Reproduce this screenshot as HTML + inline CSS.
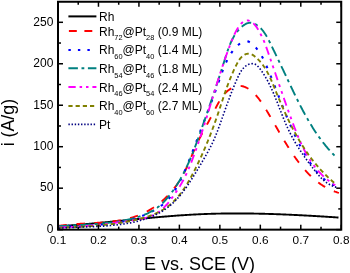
<!DOCTYPE html>
<html><head><meta charset="utf-8"><style>
html,body{margin:0;padding:0;background:#fff;}
svg{display:block;will-change:transform;}
</style></head><body>
<svg width="350" height="273" viewBox="0 0 350 273">
<path d="M58.54,226.25 L59.24,226.20 L59.94,226.16 L60.64,226.11 L61.34,226.06 L62.04,226.02 L62.74,225.97 L63.44,225.92 L64.14,225.87 L64.84,225.82 L65.54,225.77 L66.24,225.72 L66.94,225.67 L67.64,225.62 L68.35,225.56 L69.05,225.51 L69.75,225.46 L70.45,225.41 L71.15,225.35 L71.85,225.30 L72.55,225.24 L73.25,225.19 L73.95,225.13 L74.65,225.07 L75.35,225.02 L76.05,224.96 L76.75,224.90 L77.45,224.85 L78.15,224.79 L78.85,224.73 L79.55,224.67 L80.25,224.61 L80.95,224.55 L81.65,224.49 L82.35,224.43 L83.05,224.37 L83.75,224.31 L84.46,224.25 L85.16,224.19 L85.86,224.12 L86.56,224.06 L87.26,224.00 L87.96,223.94 L88.66,223.87 L89.36,223.81 L90.06,223.75 L90.76,223.68 L91.46,223.62 L92.16,223.55 L92.86,223.49 L93.56,223.42 L94.26,223.36 L94.96,223.29 L95.66,223.23 L96.36,223.16 L97.06,223.09 L97.76,223.03 L98.46,222.96 L99.16,222.89 L99.86,222.83 L100.56,222.76 L101.26,222.69 L101.96,222.62 L102.66,222.55 L103.36,222.49 L104.06,222.42 L104.76,222.35 L105.46,222.28 L106.16,222.21 L106.86,222.14 L107.56,222.08 L108.26,222.01 L108.96,221.94 L109.66,221.87 L110.36,221.80 L111.06,221.73 L111.76,221.66 L112.46,221.59 L113.16,221.52 L113.86,221.45 L114.56,221.38 L115.26,221.31 L115.96,221.24 L116.66,221.17 L117.36,221.10 L118.06,221.03 L118.76,220.96 L119.46,220.89 L120.16,220.82 L120.86,220.75 L121.56,220.68 L122.26,220.61 L122.96,220.54 L123.66,220.47 L124.36,220.40 L125.06,220.33 L125.76,220.26 L126.46,220.19 L127.16,220.12 L127.86,220.05 L128.56,219.98 L129.26,219.91 L129.96,219.84 L130.66,219.77 L131.36,219.70 L132.06,219.63 L132.76,219.56 L133.46,219.49 L134.16,219.42 L134.86,219.35 L135.56,219.28 L136.26,219.21 L136.96,219.14 L137.66,219.07 L138.36,219.00 L139.06,218.94 L139.76,218.87 L140.46,218.80 L141.16,218.73 L141.86,218.66 L142.56,218.60 L143.26,218.53 L143.96,218.46 L144.66,218.39 L145.36,218.33 L146.06,218.26 L146.76,218.19 L147.46,218.13 L148.16,218.06 L148.87,217.99 L149.57,217.93 L150.27,217.86 L150.97,217.80 L151.67,217.73 L152.37,217.67 L153.07,217.60 L153.77,217.54 L154.47,217.48 L155.17,217.41 L155.87,217.35 L156.57,217.29 L157.27,217.23 L157.97,217.16 L158.67,217.10 L159.37,217.04 L160.07,216.98 L160.77,216.92 L161.47,216.86 L162.17,216.80 L162.87,216.74 L163.58,216.68 L164.28,216.62 L164.98,216.56 L165.68,216.50 L166.38,216.44 L167.08,216.38 L167.78,216.33 L168.48,216.27 L169.18,216.21 L169.88,216.16 L170.58,216.10 L171.28,216.05 L171.99,215.99 L172.69,215.94 L173.39,215.88 L174.09,215.83 L174.79,215.78 L175.49,215.73 L176.19,215.67 L176.89,215.62 L177.59,215.57 L178.29,215.52 L179.00,215.47 L179.70,215.42 L180.40,215.37 L181.10,215.32 L181.80,215.28 L182.50,215.23 L183.20,215.18 L183.90,215.13 L184.61,215.09 L185.31,215.04 L186.01,215.00 L186.71,214.95 L187.41,214.91 L188.11,214.87 L188.81,214.83 L189.52,214.78 L190.22,214.74 L190.92,214.70 L191.62,214.66 L192.32,214.62 L193.02,214.58 L193.73,214.54 L194.43,214.51 L195.13,214.47 L195.83,214.43 L196.53,214.40 L197.23,214.36 L197.94,214.33 L198.64,214.30 L199.34,214.26 L200.04,214.23 L200.74,214.20 L201.45,214.17 L202.15,214.14 L202.85,214.11 L203.55,214.08 L204.26,214.05 L204.96,214.02 L205.66,214.00 L206.36,213.97 L207.06,213.94 L207.77,213.92 L208.47,213.89 L209.17,213.87 L209.87,213.85 L210.58,213.83 L211.28,213.80 L211.98,213.78 L212.68,213.76 L213.39,213.74 L214.09,213.72 L214.79,213.71 L215.49,213.69 L216.20,213.67 L216.90,213.65 L217.60,213.64 L218.31,213.62 L219.01,213.61 L219.71,213.59 L220.41,213.58 L221.12,213.57 L221.82,213.55 L222.52,213.54 L223.23,213.53 L223.93,213.52 L224.63,213.51 L225.33,213.50 L226.04,213.49 L226.74,213.48 L227.44,213.48 L228.15,213.47 L228.85,213.46 L229.55,213.46 L230.26,213.45 L230.96,213.45 L231.66,213.44 L232.36,213.44 L233.07,213.43 L233.77,213.43 L234.47,213.43 L235.18,213.43 L235.88,213.43 L236.58,213.43 L237.29,213.43 L237.99,213.43 L238.69,213.43 L239.40,213.43 L240.10,213.43 L240.80,213.43 L241.51,213.44 L242.21,213.44 L242.91,213.45 L243.62,213.45 L244.32,213.46 L245.02,213.46 L245.73,213.47 L246.43,213.47 L247.13,213.48 L247.84,213.49 L248.54,213.50 L249.24,213.51 L249.95,213.51 L250.65,213.52 L251.35,213.53 L252.06,213.55 L252.76,213.56 L253.46,213.57 L254.17,213.58 L254.87,213.59 L255.57,213.60 L256.28,213.62 L256.98,213.63 L257.68,213.65 L258.39,213.66 L259.09,213.68 L259.79,213.69 L260.50,213.71 L261.20,213.72 L261.90,213.74 L262.61,213.76 L263.31,213.78 L264.01,213.79 L264.72,213.81 L265.42,213.83 L266.12,213.85 L266.83,213.87 L267.53,213.89 L268.23,213.91 L268.94,213.93 L269.64,213.95 L270.34,213.98 L271.05,214.00 L271.75,214.02 L272.45,214.04 L273.16,214.07 L273.86,214.09 L274.56,214.12 L275.27,214.14 L275.97,214.16 L276.67,214.19 L277.38,214.22 L278.08,214.24 L278.78,214.27 L279.49,214.29 L280.19,214.32 L280.89,214.35 L281.60,214.38 L282.30,214.41 L283.00,214.43 L283.71,214.46 L284.41,214.49 L285.11,214.52 L285.82,214.55 L286.52,214.58 L287.22,214.61 L287.92,214.64 L288.63,214.67 L289.33,214.71 L290.03,214.74 L290.74,214.77 L291.44,214.80 L292.14,214.83 L292.85,214.87 L293.55,214.90 L294.25,214.93 L294.95,214.97 L295.66,215.00 L296.36,215.04 L297.06,215.07 L297.77,215.11 L298.47,215.14 L299.17,215.18 L299.87,215.21 L300.58,215.25 L301.28,215.29 L301.98,215.32 L302.68,215.36 L303.39,215.40 L304.09,215.43 L304.79,215.47 L305.49,215.51 L306.20,215.55 L306.90,215.59 L307.60,215.62 L308.30,215.66 L309.01,215.70 L309.71,215.74 L310.41,215.78 L311.11,215.82 L311.82,215.86 L312.52,215.90 L313.22,215.94 L313.92,215.98 L314.62,216.02 L315.33,216.07 L316.03,216.11 L316.73,216.15 L317.43,216.19 L318.13,216.23 L318.84,216.27 L319.54,216.32 L320.24,216.36 L320.94,216.40 L321.64,216.44 L322.35,216.49 L323.05,216.53 L323.75,216.57 L324.45,216.62 L325.15,216.66 L325.85,216.71 L326.56,216.75 L327.26,216.79 L327.96,216.84 L328.66,216.88 L329.36,216.93 L330.06,216.97 L330.76,217.02 L331.47,217.06 L332.17,217.11 L332.87,217.15 L333.57,217.20 L334.27,217.25 L334.97,217.29 L335.67,217.34 L336.37,217.38 L337.07,217.43 L337.77,217.48 L338.48,217.52" fill="none" stroke="#000000" stroke-width="1.9"/>
<path d="M58.61,225.92 L59.56,225.78 L60.51,225.64 L61.47,225.50 L62.44,225.38 L63.40,225.25 L64.37,225.14 L65.35,225.02 L66.32,224.92 L67.30,224.82 L68.29,224.72 L69.27,224.62 L70.26,224.53 L71.25,224.45 L72.25,224.37 L73.24,224.29 L74.24,224.21 L75.25,224.14 L76.25,224.07 L77.26,224.00 L78.26,223.93 L79.27,223.87 L80.29,223.81 L81.30,223.75 L82.31,223.69 L83.33,223.63 L84.35,223.57 L85.37,223.52 L86.39,223.46 L87.41,223.40 L88.43,223.35 L89.45,223.29 L90.48,223.23 L91.50,223.18 L92.52,223.12 L93.55,223.06 L94.57,222.99 L95.60,222.93 L96.62,222.87 L97.65,222.80 L98.67,222.73 L99.70,222.66 L100.72,222.58 L101.75,222.50 L102.77,222.42 L103.79,222.34 L104.81,222.25 L105.83,222.16 L106.85,222.06 L107.87,221.96 L108.89,221.86 L109.90,221.75 L110.92,221.63 L111.93,221.51 L112.94,221.38 L113.95,221.25 L114.96,221.11 L115.96,220.97 L116.96,220.82 L117.96,220.66 L118.96,220.50 L119.96,220.33 L120.95,220.15 L121.94,219.96 L122.93,219.77 L123.91,219.57 L124.89,219.36 L125.87,219.14 L126.85,218.91 L127.82,218.68 L128.79,218.43 L129.75,218.18 L130.71,217.91 L131.67,217.64 L132.62,217.36 L133.57,217.06 L134.52,216.76 L135.46,216.44 L136.39,216.12 L137.33,215.78 L138.25,215.43 L139.18,215.07 L140.09,214.70 L141.01,214.32 L141.92,213.92 L142.82,213.51 L143.72,213.09 L144.61,212.66 L145.50,212.22 L146.38,211.76 L147.25,211.30 L148.12,210.82 L148.99,210.33 L149.85,209.83 L150.70,209.32 L151.55,208.80 L152.39,208.27 L153.23,207.73 L154.06,207.17 L154.88,206.61 L155.70,206.04 L156.51,205.45 L157.31,204.86 L158.11,204.26 L158.90,203.65 L159.69,203.02 L160.47,202.39 L161.24,201.75 L162.00,201.10 L162.76,200.44 L163.51,199.77 L164.25,199.10 L164.99,198.41 L165.71,197.72 L166.44,197.01 L167.15,196.30 L167.85,195.58 L168.55,194.85 L169.24,194.12 L169.93,193.37 L170.60,192.62 L171.27,191.86 L171.93,191.10 L172.58,190.32 L173.22,189.54 L173.85,188.75 L174.48,187.96 L175.10,187.15 L175.70,186.34 L176.30,185.53 L176.90,184.70 L177.48,183.88 L178.05,183.04 L178.62,182.20 L179.17,181.35 L179.72,180.49 L180.26,179.63 L180.79,178.77 L181.31,177.90 L181.81,177.02 L182.31,176.14 L182.81,175.25 L183.29,174.36 L183.76,173.46 L184.23,172.56 L184.69,171.65 L185.14,170.74 L185.59,169.83 L186.03,168.92 L186.46,168.00 L186.89,167.08 L187.31,166.15 L187.73,165.23 L188.14,164.30 L188.55,163.37 L188.95,162.44 L189.36,161.50 L189.76,160.57 L190.15,159.64 L190.55,158.70 L190.94,157.77 L191.33,156.84 L191.72,155.90 L192.11,154.97 L192.50,154.04 L192.89,153.11 L193.28,152.18 L193.68,151.25 L194.07,150.33 L194.46,149.40 L194.86,148.48 L195.26,147.57 L195.66,146.65 L196.07,145.74 L196.48,144.84 L196.89,143.93 L197.31,143.04 L197.73,142.14 L198.16,141.25 L198.59,140.37 L199.02,139.48 L199.46,138.60 L199.91,137.73 L200.35,136.85 L200.80,135.98 L201.26,135.11 L201.71,134.24 L202.17,133.37 L202.64,132.51 L203.10,131.64 L203.57,130.78 L204.04,129.91 L204.51,129.05 L204.98,128.18 L205.46,127.31 L205.94,126.45 L206.41,125.58 L206.89,124.70 L207.37,123.83 L207.85,122.95 L208.34,122.07 L208.82,121.19 L209.30,120.31 L209.78,119.42 L210.26,118.52 L210.74,117.62 L211.23,116.72 L211.71,115.81 L212.19,114.90 L212.66,113.98 L213.14,113.06 L213.62,112.13 L214.09,111.19 L214.57,110.25 L215.04,109.31 L215.52,108.36 L216.00,107.42 L216.49,106.48 L216.98,105.54 L217.47,104.61 L217.98,103.68 L218.49,102.76 L219.01,101.85 L219.53,100.95 L220.07,100.06 L220.62,99.19 L221.19,98.33 L221.76,97.48 L222.35,96.66 L222.96,95.85 L223.58,95.06 L224.22,94.29 L224.87,93.55 L225.55,92.83 L226.24,92.14 L226.95,91.47 L227.69,90.84 L228.45,90.23 L229.23,89.66 L230.04,89.11 L230.87,88.61 L231.72,88.14 L232.58,87.71 L233.47,87.32 L234.36,86.98 L235.27,86.69 L236.19,86.44 L237.11,86.25 L238.03,86.11 L238.96,86.03 L239.89,86.00 L240.81,86.04 L241.73,86.14 L242.64,86.30 L243.55,86.53 L244.44,86.81 L245.33,87.15 L246.21,87.55 L247.07,87.99 L247.93,88.47 L248.78,89.00 L249.61,89.58 L250.43,90.18 L251.24,90.82 L252.04,91.50 L252.82,92.20 L253.59,92.92 L254.34,93.67 L255.08,94.43 L255.80,95.21 L256.51,96.00 L257.20,96.81 L257.87,97.62 L258.52,98.43 L259.16,99.25 L259.78,100.08 L260.39,100.91 L260.99,101.74 L261.57,102.58 L262.14,103.43 L262.71,104.27 L263.26,105.12 L263.81,105.97 L264.35,106.83 L264.88,107.69 L265.41,108.55 L265.93,109.41 L266.45,110.27 L266.97,111.13 L267.49,111.99 L268.00,112.85 L268.51,113.72 L269.02,114.58 L269.53,115.45 L270.04,116.31 L270.55,117.18 L271.05,118.05 L271.56,118.91 L272.06,119.78 L272.56,120.65 L273.07,121.51 L273.57,122.38 L274.07,123.25 L274.57,124.12 L275.07,124.98 L275.57,125.85 L276.07,126.72 L276.57,127.59 L277.07,128.45 L277.57,129.32 L278.07,130.19 L278.58,131.05 L279.08,131.92 L279.58,132.78 L280.09,133.65 L280.59,134.51 L281.10,135.38 L281.61,136.24 L282.12,137.10 L282.63,137.96 L283.15,138.82 L283.66,139.68 L284.18,140.54 L284.70,141.40 L285.22,142.26 L285.74,143.11 L286.27,143.97 L286.80,144.82 L287.33,145.67 L287.86,146.52 L288.40,147.37 L288.94,148.22 L289.49,149.07 L290.03,149.91 L290.58,150.76 L291.14,151.60 L291.70,152.44 L292.26,153.28 L292.82,154.12 L293.39,154.95 L293.97,155.79 L294.54,156.62 L295.13,157.45 L295.71,158.27 L296.30,159.10 L296.90,159.92 L297.50,160.73 L298.11,161.54 L298.72,162.35 L299.33,163.16 L299.95,163.96 L300.58,164.75 L301.21,165.54 L301.85,166.33 L302.49,167.11 L303.14,167.88 L303.79,168.65 L304.45,169.41 L305.12,170.17 L305.79,170.92 L306.47,171.66 L307.15,172.39 L307.84,173.12 L308.54,173.84 L309.25,174.56 L309.96,175.26 L310.68,175.96 L311.40,176.65 L312.13,177.33 L312.87,178.00 L313.62,178.66 L314.37,179.32 L315.14,179.96 L315.91,180.60 L316.68,181.22 L317.47,181.83 L318.26,182.44 L319.06,183.03 L319.87,183.61 L320.69,184.18 L321.51,184.74 L322.35,185.29 L323.19,185.83 L324.04,186.35 L324.90,186.86 L325.77,187.36 L326.65,187.85 L327.54,188.32 L328.44,188.78 L329.34,189.23 L330.26,189.66 L331.18,190.08 L332.12,190.49 L333.06,190.88 L334.02,191.25 L334.98,191.62 L335.95,191.96 L336.94,192.29 L337.93,192.61 L338.94,192.91" fill="none" stroke="#ff0000" stroke-width="1.9" stroke-dasharray="8.3 9.7"/>
<path d="M58.53,226.98 L59.69,226.90 L60.85,226.83 L62.01,226.76 L63.18,226.69 L64.35,226.62 L65.52,226.55 L66.69,226.49 L67.86,226.43 L69.04,226.37 L70.21,226.31 L71.39,226.25 L72.57,226.20 L73.75,226.14 L74.93,226.09 L76.11,226.03 L77.30,225.98 L78.48,225.92 L79.67,225.87 L80.86,225.81 L82.04,225.76 L83.23,225.70 L84.42,225.64 L85.61,225.58 L86.80,225.52 L87.99,225.45 L89.18,225.38 L90.37,225.31 L91.56,225.24 L92.75,225.17 L93.94,225.09 L95.12,225.01 L96.31,224.92 L97.50,224.83 L98.69,224.74 L99.88,224.64 L101.06,224.54 L102.25,224.43 L103.43,224.31 L104.62,224.20 L105.80,224.07 L106.98,223.94 L108.16,223.81 L109.34,223.67 L110.52,223.52 L111.69,223.37 L112.87,223.20 L114.04,223.04 L115.21,222.86 L116.38,222.68 L117.54,222.48 L118.71,222.28 L119.87,222.08 L121.03,221.86 L122.19,221.64 L123.34,221.40 L124.50,221.16 L125.65,220.91 L126.79,220.64 L127.94,220.37 L129.08,220.09 L130.22,219.80 L131.36,219.49 L132.49,219.18 L133.62,218.85 L134.74,218.52 L135.87,218.17 L136.99,217.81 L138.10,217.44 L139.21,217.05 L140.32,216.65 L141.43,216.25 L142.53,215.82 L143.62,215.39 L144.72,214.94 L145.80,214.48 L146.89,214.00 L147.97,213.51 L149.04,213.01 L150.11,212.49 L151.18,211.95 L152.24,211.40 L153.29,210.84 L154.33,210.26 L155.37,209.66 L156.39,209.05 L157.40,208.41 L158.40,207.76 L159.39,207.09 L160.36,206.40 L161.31,205.69 L162.24,204.97 L163.16,204.22 L164.06,203.45 L164.93,202.66 L165.79,201.84 L166.62,201.01 L167.43,200.15 L168.22,199.28 L169.00,198.39 L169.75,197.48 L170.49,196.56 L171.21,195.62 L171.91,194.67 L172.60,193.70 L173.27,192.73 L173.93,191.74 L174.58,190.74 L175.21,189.73 L175.83,188.72 L176.44,187.70 L177.04,186.67 L177.62,185.64 L178.20,184.60 L178.77,183.55 L179.33,182.51 L179.88,181.45 L180.42,180.39 L180.95,179.33 L181.47,178.27 L181.99,177.20 L182.50,176.12 L183.00,175.04 L183.50,173.96 L183.98,172.88 L184.46,171.79 L184.94,170.70 L185.41,169.61 L185.87,168.51 L186.33,167.41 L186.79,166.32 L187.24,165.21 L187.68,164.11 L188.13,163.01 L188.57,161.90 L189.00,160.80 L189.43,159.69 L189.86,158.58 L190.29,157.47 L190.72,156.36 L191.14,155.25 L191.56,154.15 L191.98,153.04 L192.40,151.93 L192.82,150.82 L193.24,149.72 L193.66,148.61 L194.09,147.51 L194.51,146.41 L194.93,145.31 L195.35,144.21 L195.77,143.11 L196.19,142.01 L196.61,140.91 L197.03,139.81 L197.45,138.72 L197.87,137.62 L198.29,136.52 L198.71,135.43 L199.13,134.33 L199.55,133.24 L199.97,132.14 L200.39,131.05 L200.81,129.96 L201.23,128.86 L201.65,127.77 L202.07,126.68 L202.49,125.58 L202.91,124.49 L203.33,123.40 L203.75,122.30 L204.16,121.21 L204.58,120.12 L205.00,119.02 L205.42,117.93 L205.84,116.83 L206.25,115.73 L206.67,114.64 L207.08,113.54 L207.50,112.44 L207.92,111.35 L208.33,110.25 L208.75,109.15 L209.16,108.04 L209.57,106.94 L209.99,105.84 L210.40,104.74 L210.81,103.63 L211.22,102.53 L211.63,101.42 L212.04,100.31 L212.45,99.20 L212.86,98.09 L213.27,96.98 L213.68,95.86 L214.09,94.75 L214.50,93.63 L214.90,92.51 L215.31,91.39 L215.71,90.27 L216.12,89.14 L216.52,88.02 L216.92,86.89 L217.33,85.76 L217.73,84.62 L218.13,83.49 L218.53,82.35 L218.93,81.22 L219.33,80.08 L219.72,78.93 L220.12,77.79 L220.52,76.65 L220.92,75.50 L221.33,74.36 L221.74,73.22 L222.15,72.08 L222.57,70.95 L223.00,69.82 L223.43,68.69 L223.87,67.57 L224.32,66.46 L224.79,65.35 L225.26,64.25 L225.74,63.16 L226.23,62.08 L226.74,61.01 L227.26,59.95 L227.80,58.90 L228.35,57.86 L228.92,56.84 L229.51,55.83 L230.11,54.83 L230.74,53.85 L231.38,52.88 L232.04,51.93 L232.73,51.00 L233.43,50.09 L234.17,49.19 L234.92,48.31 L235.70,47.46 L236.51,46.62 L237.34,45.81 L238.20,45.02 L239.08,44.25 L239.99,43.52 L240.93,42.86 L241.88,42.27 L242.85,41.78 L243.84,41.40 L244.83,41.16 L245.83,41.07 L246.84,41.15 L247.85,41.38 L248.85,41.76 L249.85,42.27 L250.84,42.90 L251.81,43.61 L252.76,44.41 L253.68,45.27 L254.58,46.18 L255.45,47.13 L256.28,48.08 L257.07,49.06 L257.83,50.05 L258.57,51.05 L259.27,52.06 L259.94,53.09 L260.59,54.12 L261.21,55.17 L261.81,56.22 L262.39,57.28 L262.95,58.35 L263.49,59.43 L264.02,60.51 L264.54,61.59 L265.04,62.68 L265.53,63.77 L266.02,64.87 L266.49,65.96 L266.96,67.06 L267.43,68.15 L267.90,69.24 L268.36,70.34 L268.82,71.43 L269.27,72.52 L269.72,73.62 L270.17,74.71 L270.61,75.80 L271.06,76.89 L271.50,77.98 L271.94,79.08 L272.37,80.17 L272.81,81.26 L273.24,82.35 L273.67,83.44 L274.10,84.54 L274.53,85.63 L274.96,86.72 L275.38,87.82 L275.81,88.91 L276.23,90.00 L276.66,91.10 L277.08,92.19 L277.51,93.29 L277.93,94.38 L278.36,95.48 L278.78,96.58 L279.21,97.68 L279.63,98.77 L280.06,99.87 L280.49,100.97 L280.92,102.07 L281.35,103.17 L281.78,104.27 L282.21,105.37 L282.64,106.47 L283.08,107.57 L283.51,108.67 L283.95,109.77 L284.39,110.86 L284.83,111.96 L285.28,113.06 L285.72,114.16 L286.17,115.25 L286.62,116.35 L287.07,117.45 L287.52,118.54 L287.98,119.63 L288.44,120.73 L288.90,121.82 L289.37,122.91 L289.84,124.00 L290.31,125.09 L290.78,126.17 L291.26,127.26 L291.74,128.34 L292.23,129.42 L292.71,130.50 L293.20,131.58 L293.70,132.66 L294.20,133.74 L294.70,134.81 L295.21,135.88 L295.72,136.95 L296.24,138.02 L296.76,139.08 L297.28,140.14 L297.81,141.21 L298.34,142.26 L298.88,143.32 L299.42,144.37 L299.97,145.42 L300.52,146.47 L301.08,147.52 L301.65,148.56 L302.22,149.60 L302.79,150.63 L303.37,151.67 L303.96,152.70 L304.55,153.72 L305.14,154.75 L305.75,155.77 L306.36,156.79 L306.97,157.80 L307.59,158.81 L308.22,159.82 L308.85,160.82 L309.50,161.82 L310.14,162.81 L310.80,163.80 L311.46,164.79 L312.13,165.76 L312.82,166.73 L313.51,167.69 L314.21,168.64 L314.93,169.58 L315.65,170.51 L316.39,171.42 L317.14,172.32 L317.91,173.21 L318.69,174.08 L319.49,174.93 L320.31,175.77 L321.14,176.58 L321.99,177.38 L322.85,178.16 L323.74,178.91 L324.65,179.64 L325.57,180.35 L326.52,181.03 L327.49,181.69 L328.48,182.32 L329.50,182.93 L330.54,183.50 L331.60,184.05 L332.69,184.56 L333.80,185.05 L334.95,185.50 L336.11,185.92 L337.31,186.30" fill="none" stroke="#0000ff" stroke-width="2.1" stroke-dasharray="2.6 8"/>
<path d="M58.49,226.20 L59.69,226.12 L60.90,226.04 L62.10,225.97 L63.30,225.90 L64.50,225.83 L65.70,225.76 L66.89,225.69 L68.09,225.63 L69.29,225.56 L70.49,225.50 L71.68,225.44 L72.88,225.37 L74.08,225.31 L75.27,225.25 L76.47,225.19 L77.66,225.13 L78.86,225.07 L80.05,225.00 L81.24,224.94 L82.44,224.88 L83.63,224.81 L84.82,224.74 L86.02,224.67 L87.21,224.60 L88.40,224.53 L89.59,224.46 L90.78,224.38 L91.97,224.30 L93.16,224.22 L94.35,224.13 L95.54,224.04 L96.73,223.95 L97.92,223.85 L99.11,223.75 L100.30,223.65 L101.49,223.54 L102.67,223.43 L103.86,223.31 L105.05,223.19 L106.24,223.06 L107.43,222.93 L108.61,222.79 L109.80,222.65 L110.99,222.50 L112.18,222.34 L113.36,222.18 L114.55,222.01 L115.74,221.84 L116.92,221.66 L118.11,221.47 L119.30,221.27 L120.48,221.07 L121.67,220.86 L122.85,220.64 L124.04,220.41 L125.23,220.18 L126.41,219.93 L127.60,219.68 L128.78,219.42 L129.97,219.15 L131.15,218.87 L132.33,218.57 L133.51,218.27 L134.68,217.95 L135.85,217.62 L137.01,217.28 L138.17,216.93 L139.32,216.56 L140.46,216.17 L141.60,215.77 L142.73,215.36 L143.86,214.93 L144.97,214.48 L146.07,214.01 L147.17,213.53 L148.25,213.03 L149.32,212.50 L150.38,211.96 L151.43,211.40 L152.46,210.82 L153.48,210.22 L154.49,209.59 L155.48,208.95 L156.46,208.28 L157.42,207.59 L158.36,206.87 L159.29,206.13 L160.20,205.36 L161.09,204.57 L161.97,203.76 L162.83,202.92 L163.67,202.07 L164.49,201.19 L165.31,200.31 L166.11,199.41 L166.89,198.50 L167.67,197.58 L168.44,196.66 L169.19,195.72 L169.93,194.78 L170.67,193.84 L171.39,192.88 L172.10,191.92 L172.81,190.96 L173.50,189.98 L174.18,189.00 L174.86,188.02 L175.52,187.02 L176.18,186.02 L176.82,185.02 L177.46,184.01 L178.09,182.99 L178.71,181.97 L179.32,180.94 L179.92,179.91 L180.52,178.87 L181.10,177.83 L181.68,176.79 L182.25,175.73 L182.82,174.68 L183.37,173.62 L183.92,172.55 L184.47,171.48 L185.00,170.41 L185.53,169.33 L186.05,168.25 L186.57,167.16 L187.08,166.08 L187.58,164.98 L188.08,163.89 L188.57,162.79 L189.06,161.69 L189.54,160.59 L190.02,159.48 L190.49,158.37 L190.96,157.26 L191.42,156.14 L191.87,155.03 L192.33,153.91 L192.78,152.79 L193.22,151.67 L193.66,150.54 L194.10,149.42 L194.53,148.29 L194.96,147.17 L195.38,146.04 L195.81,144.91 L196.23,143.78 L196.64,142.65 L197.06,141.51 L197.47,140.38 L197.88,139.25 L198.29,138.12 L198.69,136.98 L199.09,135.85 L199.50,134.72 L199.90,133.59 L200.30,132.45 L200.69,131.32 L201.09,130.19 L201.48,129.06 L201.88,127.94 L202.27,126.81 L202.67,125.68 L203.06,124.56 L203.45,123.43 L203.84,122.31 L204.24,121.19 L204.63,120.07 L205.02,118.95 L205.41,117.83 L205.80,116.71 L206.18,115.59 L206.57,114.47 L206.96,113.35 L207.35,112.24 L207.73,111.12 L208.12,110.00 L208.51,108.89 L208.89,107.77 L209.28,106.65 L209.66,105.54 L210.04,104.42 L210.43,103.30 L210.81,102.18 L211.19,101.07 L211.57,99.95 L211.95,98.83 L212.33,97.71 L212.72,96.59 L213.09,95.47 L213.47,94.35 L213.85,93.23 L214.23,92.10 L214.61,90.98 L214.99,89.85 L215.36,88.73 L215.74,87.60 L216.11,86.47 L216.49,85.34 L216.87,84.21 L217.24,83.08 L217.61,81.94 L217.99,80.81 L218.36,79.67 L218.73,78.53 L219.10,77.39 L219.48,76.25 L219.85,75.10 L220.22,73.95 L220.59,72.80 L220.96,71.65 L221.33,70.50 L221.70,69.34 L222.07,68.19 L222.43,67.03 L222.80,65.86 L223.17,64.70 L223.54,63.53 L223.90,62.36 L224.27,61.18 L224.63,60.01 L225.00,58.83 L225.37,57.65 L225.74,56.47 L226.11,55.29 L226.49,54.12 L226.88,52.95 L227.27,51.78 L227.67,50.61 L228.07,49.45 L228.49,48.30 L228.92,47.16 L229.36,46.02 L229.81,44.90 L230.27,43.78 L230.75,42.68 L231.25,41.59 L231.76,40.51 L232.28,39.44 L232.83,38.39 L233.40,37.36 L233.98,36.34 L234.59,35.35 L235.22,34.37 L235.87,33.41 L236.55,32.47 L237.25,31.55 L237.98,30.66 L238.74,29.78 L239.52,28.94 L240.34,28.12 L241.18,27.32 L242.06,26.55 L242.96,25.81 L243.90,25.12 L244.86,24.48 L245.86,23.91 L246.87,23.44 L247.90,23.07 L248.96,22.83 L250.03,22.73 L251.11,22.78 L252.19,22.96 L253.27,23.27 L254.34,23.69 L255.38,24.19 L256.40,24.77 L257.37,25.41 L258.31,26.10 L259.22,26.84 L260.09,27.63 L260.92,28.46 L261.73,29.33 L262.51,30.25 L263.25,31.20 L263.98,32.18 L264.68,33.19 L265.36,34.22 L266.01,35.28 L266.65,36.36 L267.28,37.46 L267.88,38.57 L268.47,39.69 L269.06,40.82 L269.63,41.96 L270.19,43.09 L270.75,44.23 L271.30,45.36 L271.84,46.49 L272.39,47.61 L272.93,48.72 L273.46,49.83 L274.00,50.93 L274.53,52.03 L275.06,53.12 L275.58,54.21 L276.10,55.30 L276.62,56.38 L277.14,57.46 L277.66,58.53 L278.17,59.60 L278.68,60.67 L279.19,61.74 L279.70,62.80 L280.21,63.86 L280.72,64.92 L281.22,65.98 L281.72,67.04 L282.23,68.10 L282.73,69.15 L283.23,70.21 L283.73,71.27 L284.23,72.32 L284.73,73.38 L285.24,74.44 L285.74,75.50 L286.24,76.56 L286.74,77.62 L287.24,78.68 L287.74,79.75 L288.25,80.82 L288.75,81.89 L289.26,82.96 L289.77,84.03 L290.27,85.10 L290.78,86.18 L291.29,87.26 L291.81,88.33 L292.32,89.41 L292.84,90.49 L293.35,91.57 L293.87,92.65 L294.39,93.73 L294.92,94.81 L295.44,95.89 L295.97,96.97 L296.50,98.05 L297.03,99.13 L297.57,100.21 L298.10,101.29 L298.65,102.37 L299.19,103.44 L299.74,104.52 L300.28,105.59 L300.84,106.66 L301.39,107.74 L301.95,108.81 L302.52,109.87 L303.08,110.94 L303.65,112.01 L304.23,113.07 L304.80,114.13 L305.38,115.19 L305.97,116.24 L306.56,117.29 L307.15,118.34 L307.75,119.39 L308.36,120.43 L308.96,121.47 L309.57,122.51 L310.19,123.54 L310.81,124.57 L311.44,125.60 L312.07,126.62 L312.71,127.64 L313.35,128.65 L314.00,129.66 L314.65,130.67 L315.31,131.67 L315.97,132.67 L316.64,133.66 L317.32,134.64 L318.00,135.63 L318.69,136.60 L319.38,137.57 L320.08,138.54 L320.79,139.50 L321.50,140.45 L322.22,141.40 L322.94,142.34 L323.68,143.28 L324.42,144.21 L325.16,145.13 L325.92,146.05 L326.68,146.96 L327.44,147.86 L328.22,148.76 L329.00,149.64 L329.79,150.53 L330.59,151.40 L331.39,152.27 L332.21,153.13 L333.03,153.98 L333.86,154.82 L334.69,155.66 L335.54,156.48 L336.39,157.30 L337.25,158.11" fill="none" stroke="#008080" stroke-width="1.9" stroke-dasharray="10.6 4 3.1 4"/>
<path d="M58.47,227.42 L59.78,227.41 L61.07,227.39 L62.37,227.37 L63.66,227.34 L64.95,227.31 L66.24,227.27 L67.52,227.23 L68.80,227.18 L70.08,227.13 L71.36,227.07 L72.63,227.00 L73.91,226.94 L75.18,226.86 L76.45,226.78 L77.71,226.70 L78.98,226.61 L80.24,226.52 L81.51,226.43 L82.77,226.33 L84.03,226.23 L85.29,226.12 L86.55,226.01 L87.80,225.89 L89.06,225.78 L90.32,225.66 L91.58,225.53 L92.83,225.40 L94.09,225.27 L95.34,225.14 L96.60,225.00 L97.86,224.87 L99.11,224.72 L100.37,224.58 L101.63,224.43 L102.89,224.29 L104.14,224.14 L105.40,223.98 L106.67,223.83 L107.93,223.67 L109.19,223.51 L110.46,223.35 L111.72,223.19 L112.99,223.03 L114.26,222.87 L115.53,222.70 L116.80,222.54 L118.08,222.37 L119.35,222.20 L120.63,222.03 L121.92,221.86 L123.20,221.69 L124.49,221.52 L125.78,221.35 L127.07,221.18 L128.37,221.01 L129.66,220.84 L130.96,220.66 L132.25,220.47 L133.55,220.28 L134.84,220.08 L136.13,219.87 L137.41,219.65 L138.69,219.42 L139.96,219.17 L141.22,218.90 L142.48,218.62 L143.72,218.32 L144.96,217.99 L146.18,217.65 L147.39,217.28 L148.59,216.89 L149.78,216.47 L150.95,216.03 L152.10,215.55 L153.23,215.05 L154.35,214.51 L155.45,213.93 L156.53,213.33 L157.59,212.68 L158.62,212.00 L159.64,211.28 L160.63,210.52 L161.59,209.72 L162.54,208.88 L163.46,208.02 L164.37,207.12 L165.25,206.20 L166.12,205.25 L166.97,204.28 L167.81,203.29 L168.62,202.28 L169.43,201.26 L170.22,200.23 L170.99,199.19 L171.76,198.14 L172.51,197.09 L173.26,196.04 L173.99,194.99 L174.72,193.94 L175.44,192.91 L176.15,191.88 L176.85,190.85 L177.54,189.82 L178.23,188.79 L178.90,187.74 L179.56,186.69 L180.20,185.63 L180.84,184.56 L181.46,183.48 L182.08,182.39 L182.68,181.29 L183.27,180.18 L183.85,179.06 L184.42,177.94 L184.98,176.81 L185.53,175.67 L186.07,174.52 L186.61,173.37 L187.14,172.21 L187.65,171.05 L188.16,169.88 L188.67,168.70 L189.17,167.53 L189.66,166.34 L190.14,165.16 L190.62,163.97 L191.09,162.78 L191.56,161.58 L192.03,160.39 L192.49,159.19 L192.94,157.99 L193.39,156.79 L193.84,155.59 L194.29,154.39 L194.73,153.19 L195.16,151.99 L195.60,150.78 L196.03,149.58 L196.46,148.38 L196.88,147.17 L197.31,145.97 L197.73,144.76 L198.14,143.55 L198.56,142.35 L198.97,141.14 L199.38,139.93 L199.78,138.72 L200.18,137.51 L200.59,136.30 L200.99,135.09 L201.38,133.88 L201.78,132.67 L202.17,131.46 L202.56,130.25 L202.95,129.04 L203.34,127.82 L203.72,126.61 L204.11,125.40 L204.49,124.19 L204.87,122.97 L205.25,121.76 L205.63,120.54 L206.01,119.33 L206.38,118.11 L206.76,116.90 L207.13,115.68 L207.50,114.47 L207.88,113.25 L208.25,112.04 L208.62,110.82 L208.99,109.61 L209.36,108.39 L209.73,107.18 L210.10,105.96 L210.47,104.74 L210.84,103.53 L211.21,102.31 L211.57,101.10 L211.94,99.88 L212.31,98.66 L212.68,97.45 L213.05,96.23 L213.42,95.01 L213.79,93.80 L214.16,92.58 L214.53,91.37 L214.91,90.15 L215.28,88.94 L215.65,87.72 L216.03,86.51 L216.40,85.29 L216.78,84.08 L217.16,82.86 L217.54,81.65 L217.92,80.44 L218.30,79.22 L218.69,78.01 L219.07,76.80 L219.46,75.58 L219.85,74.37 L220.24,73.16 L220.63,71.95 L221.03,70.74 L221.42,69.52 L221.82,68.31 L222.22,67.10 L222.63,65.90 L223.03,64.69 L223.44,63.48 L223.85,62.27 L224.26,61.06 L224.68,59.86 L225.10,58.65 L225.52,57.44 L225.94,56.24 L226.37,55.03 L226.80,53.83 L227.24,52.63 L227.67,51.42 L228.12,50.22 L228.56,49.02 L229.01,47.82 L229.46,46.62 L229.91,45.42 L230.37,44.22 L230.83,43.02 L231.30,41.83 L231.77,40.63 L232.25,39.44 L232.74,38.25 L233.24,37.07 L233.75,35.90 L234.28,34.73 L234.83,33.58 L235.40,32.44 L235.99,31.31 L236.61,30.21 L237.26,29.11 L237.93,28.04 L238.64,26.99 L239.38,25.96 L240.15,24.95 L240.97,23.97 L241.83,23.03 L242.73,22.16 L243.69,21.42 L244.72,20.85 L245.81,20.51 L246.97,20.41 L248.17,20.55 L249.37,20.88 L250.53,21.37 L251.63,22.00 L252.66,22.74 L253.64,23.59 L254.56,24.53 L255.43,25.55 L256.25,26.62 L257.02,27.75 L257.75,28.91 L258.45,30.09 L259.11,31.28 L259.75,32.46 L260.35,33.62 L260.94,34.75 L261.50,35.86 L262.05,36.96 L262.58,38.06 L263.09,39.17 L263.59,40.29 L264.07,41.44 L264.55,42.60 L265.01,43.78 L265.46,44.97 L265.91,46.17 L266.34,47.37 L266.78,48.59 L267.21,49.80 L267.63,51.02 L268.06,52.24 L268.48,53.45 L268.91,54.67 L269.33,55.88 L269.75,57.09 L270.17,58.31 L270.59,59.52 L271.01,60.73 L271.42,61.94 L271.84,63.15 L272.25,64.36 L272.67,65.57 L273.08,66.77 L273.49,67.98 L273.91,69.19 L274.32,70.39 L274.73,71.60 L275.14,72.80 L275.55,74.01 L275.96,75.21 L276.37,76.41 L276.78,77.62 L277.19,78.82 L277.60,80.02 L278.01,81.22 L278.42,82.43 L278.83,83.63 L279.24,84.83 L279.66,86.03 L280.07,87.23 L280.48,88.43 L280.89,89.63 L281.30,90.83 L281.72,92.02 L282.13,93.22 L282.54,94.42 L282.96,95.62 L283.37,96.82 L283.79,98.02 L284.21,99.22 L284.63,100.41 L285.05,101.61 L285.47,102.81 L285.89,104.01 L286.31,105.21 L286.74,106.40 L287.16,107.60 L287.59,108.80 L288.02,110.00 L288.45,111.20 L288.88,112.39 L289.31,113.59 L289.75,114.79 L290.18,115.99 L290.62,117.19 L291.06,118.39 L291.50,119.59 L291.94,120.79 L292.39,121.99 L292.84,123.19 L293.29,124.39 L293.74,125.59 L294.20,126.79 L294.65,127.99 L295.12,129.19 L295.58,130.38 L296.05,131.58 L296.53,132.77 L297.01,133.96 L297.49,135.15 L297.98,136.34 L298.48,137.52 L298.98,138.70 L299.49,139.88 L300.00,141.05 L300.52,142.22 L301.05,143.39 L301.59,144.54 L302.13,145.70 L302.68,146.85 L303.25,147.99 L303.82,149.13 L304.40,150.26 L304.98,151.39 L305.58,152.50 L306.19,153.62 L306.81,154.72 L307.44,155.82 L308.09,156.90 L308.74,157.98 L309.40,159.06 L310.08,160.12 L310.77,161.17 L311.47,162.22 L312.19,163.25 L312.92,164.28 L313.66,165.29 L314.42,166.30 L315.19,167.29 L315.97,168.27 L316.78,169.24 L317.59,170.20 L318.42,171.15 L319.27,172.09 L320.14,173.01 L321.02,173.92 L321.91,174.81 L322.83,175.70 L323.76,176.57 L324.71,177.42 L325.68,178.26 L326.67,179.09 L327.67,179.90 L328.70,180.70 L329.74,181.48 L330.81,182.25 L331.89,183.00 L333.00,183.73 L334.12,184.45 L335.27,185.15" fill="none" stroke="#ff00ff" stroke-width="1.9" stroke-dasharray="8.2 4.4 2.8 4.4 2.8 4.4"/>
<path d="M58.44,227.75 L59.61,227.70 L60.77,227.66 L61.93,227.61 L63.09,227.57 L64.24,227.52 L65.39,227.48 L66.54,227.43 L67.69,227.38 L68.83,227.34 L69.96,227.29 L71.10,227.24 L72.23,227.19 L73.36,227.14 L74.49,227.08 L75.62,227.03 L76.74,226.98 L77.86,226.92 L78.98,226.86 L80.10,226.80 L81.22,226.74 L82.33,226.68 L83.44,226.61 L84.56,226.55 L85.67,226.48 L86.77,226.41 L87.88,226.34 L88.99,226.26 L90.09,226.18 L91.20,226.10 L92.30,226.02 L93.41,225.94 L94.51,225.85 L95.61,225.76 L96.71,225.66 L97.82,225.57 L98.92,225.47 L100.02,225.37 L101.12,225.26 L102.22,225.15 L103.33,225.04 L104.43,224.92 L105.53,224.80 L106.63,224.68 L107.74,224.55 L108.84,224.42 L109.95,224.29 L111.06,224.15 L112.17,224.01 L113.28,223.86 L114.39,223.71 L115.50,223.56 L116.61,223.40 L117.73,223.23 L118.84,223.06 L119.96,222.89 L121.08,222.71 L122.21,222.53 L123.33,222.34 L124.46,222.15 L125.59,221.95 L126.72,221.75 L127.85,221.54 L128.99,221.32 L130.13,221.10 L131.26,220.88 L132.40,220.64 L133.54,220.40 L134.68,220.15 L135.81,219.90 L136.95,219.63 L138.08,219.36 L139.21,219.08 L140.33,218.79 L141.46,218.49 L142.58,218.18 L143.69,217.86 L144.80,217.53 L145.91,217.19 L147.00,216.83 L148.10,216.47 L149.18,216.10 L150.26,215.71 L151.33,215.31 L152.40,214.90 L153.45,214.47 L154.50,214.03 L155.54,213.58 L156.56,213.12 L157.58,212.64 L158.59,212.14 L159.58,211.63 L160.56,211.11 L161.53,210.57 L162.49,210.01 L163.44,209.44 L164.37,208.85 L165.29,208.24 L166.19,207.62 L167.08,206.98 L167.96,206.33 L168.82,205.65 L169.67,204.97 L170.50,204.26 L171.33,203.55 L172.14,202.82 L172.94,202.07 L173.72,201.31 L174.50,200.54 L175.26,199.75 L176.01,198.95 L176.75,198.14 L177.48,197.31 L178.20,196.48 L178.90,195.63 L179.60,194.77 L180.29,193.90 L180.97,193.02 L181.63,192.13 L182.29,191.23 L182.94,190.32 L183.58,189.41 L184.22,188.48 L184.84,187.55 L185.46,186.60 L186.06,185.65 L186.66,184.70 L187.26,183.73 L187.84,182.76 L188.42,181.78 L188.99,180.80 L189.56,179.81 L190.12,178.82 L190.67,177.82 L191.22,176.82 L191.76,175.81 L192.29,174.80 L192.82,173.79 L193.35,172.77 L193.87,171.75 L194.39,170.73 L194.90,169.71 L195.41,168.68 L195.91,167.66 L196.42,166.63 L196.91,165.60 L197.41,164.57 L197.90,163.54 L198.39,162.51 L198.88,161.48 L199.36,160.45 L199.84,159.42 L200.31,158.39 L200.79,157.36 L201.26,156.32 L201.72,155.29 L202.19,154.26 L202.65,153.22 L203.11,152.18 L203.56,151.15 L204.01,150.11 L204.46,149.07 L204.91,148.04 L205.35,147.00 L205.79,145.96 L206.23,144.92 L206.66,143.88 L207.09,142.84 L207.52,141.80 L207.95,140.76 L208.37,139.71 L208.79,138.67 L209.21,137.63 L209.62,136.58 L210.03,135.54 L210.44,134.49 L210.85,133.45 L211.25,132.40 L211.65,131.35 L212.05,130.31 L212.45,129.26 L212.84,128.21 L213.23,127.16 L213.62,126.11 L214.00,125.06 L214.39,124.01 L214.77,122.96 L215.14,121.90 L215.52,120.85 L215.89,119.80 L216.26,118.74 L216.63,117.69 L216.99,116.63 L217.36,115.58 L217.72,114.52 L218.07,113.46 L218.43,112.41 L218.78,111.35 L219.14,110.29 L219.49,109.23 L219.84,108.17 L220.19,107.11 L220.54,106.05 L220.89,104.99 L221.24,103.93 L221.59,102.87 L221.94,101.80 L222.29,100.74 L222.64,99.68 L222.99,98.62 L223.35,97.55 L223.70,96.49 L224.06,95.43 L224.42,94.36 L224.79,93.30 L225.15,92.24 L225.52,91.17 L225.90,90.11 L226.27,89.05 L226.65,87.98 L227.04,86.92 L227.43,85.85 L227.82,84.79 L228.22,83.73 L228.62,82.66 L229.03,81.60 L229.45,80.54 L229.87,79.48 L230.29,78.41 L230.73,77.35 L231.17,76.29 L231.61,75.23 L232.07,74.16 L232.53,73.10 L233.00,72.04 L233.48,70.98 L233.96,69.92 L234.46,68.86 L234.96,67.80 L235.47,66.75 L236.00,65.69 L236.53,64.63 L237.07,63.58 L237.63,62.55 L238.21,61.53 L238.81,60.55 L239.43,59.60 L240.09,58.69 L240.78,57.84 L241.50,57.04 L242.26,56.31 L243.06,55.65 L243.91,55.07 L244.80,54.57 L245.75,54.17 L246.75,53.88 L247.81,53.69 L248.89,53.64 L249.97,53.76 L251.02,54.07 L252.04,54.54 L253.01,55.14 L253.95,55.82 L254.86,56.53 L255.75,57.26 L256.61,58.01 L257.44,58.78 L258.24,59.57 L259.02,60.37 L259.78,61.19 L260.51,62.03 L261.23,62.88 L261.92,63.75 L262.59,64.63 L263.24,65.52 L263.87,66.43 L264.48,67.35 L265.08,68.28 L265.66,69.22 L266.23,70.18 L266.78,71.14 L267.31,72.12 L267.84,73.10 L268.35,74.09 L268.85,75.09 L269.34,76.10 L269.82,77.11 L270.29,78.13 L270.76,79.16 L271.21,80.19 L271.66,81.23 L272.11,82.27 L272.55,83.31 L272.98,84.36 L273.42,85.41 L273.85,86.46 L274.28,87.51 L274.71,88.56 L275.14,89.62 L275.57,90.67 L276.00,91.72 L276.43,92.77 L276.87,93.82 L277.30,94.88 L277.74,95.93 L278.18,96.97 L278.62,98.02 L279.06,99.07 L279.50,100.12 L279.95,101.17 L280.39,102.21 L280.84,103.25 L281.29,104.30 L281.75,105.34 L282.20,106.38 L282.66,107.42 L283.12,108.46 L283.58,109.50 L284.04,110.53 L284.51,111.57 L284.98,112.60 L285.45,113.63 L285.92,114.66 L286.40,115.69 L286.88,116.71 L287.36,117.73 L287.84,118.76 L288.33,119.78 L288.82,120.80 L289.32,121.81 L289.82,122.82 L290.32,123.84 L290.82,124.85 L291.33,125.85 L291.84,126.86 L292.36,127.86 L292.88,128.86 L293.40,129.86 L293.93,130.85 L294.46,131.85 L294.99,132.83 L295.53,133.82 L296.07,134.81 L296.62,135.79 L297.17,136.76 L297.73,137.74 L298.29,138.71 L298.85,139.68 L299.42,140.65 L299.99,141.61 L300.57,142.57 L301.15,143.53 L301.74,144.48 L302.34,145.43 L302.93,146.37 L303.54,147.31 L304.14,148.25 L304.76,149.19 L305.38,150.12 L306.00,151.05 L306.63,151.97 L307.27,152.89 L307.91,153.81 L308.55,154.72 L309.20,155.62 L309.86,156.53 L310.53,157.43 L311.20,158.32 L311.87,159.21 L312.55,160.10 L313.24,160.98 L313.93,161.86 L314.64,162.73 L315.34,163.60 L316.06,164.46 L316.78,165.32 L317.50,166.17 L318.23,167.02 L318.97,167.87 L319.72,168.71 L320.48,169.54 L321.24,170.37 L322.00,171.20 L322.78,172.01 L323.56,172.83 L324.35,173.64 L325.15,174.44 L325.95,175.24 L326.76,176.03 L327.58,176.82 L328.41,177.60 L329.24,178.37 L330.08,179.14 L330.93,179.91 L331.79,180.66 L332.66,181.42 L333.53,182.16 L334.41,182.90 L335.30,183.64 L336.20,184.37" fill="none" stroke="#808000" stroke-width="1.9" stroke-dasharray="4.4 3.1"/>
<path d="M58.76,228.27 L59.78,228.19 L60.80,228.11 L61.82,228.04 L62.85,227.96 L63.89,227.90 L64.93,227.83 L65.97,227.77 L67.02,227.71 L68.08,227.65 L69.14,227.60 L70.20,227.55 L71.27,227.50 L72.35,227.45 L73.42,227.40 L74.51,227.36 L75.59,227.31 L76.68,227.27 L77.77,227.23 L78.87,227.19 L79.97,227.15 L81.07,227.11 L82.17,227.07 L83.28,227.03 L84.39,226.99 L85.50,226.94 L86.62,226.90 L87.74,226.86 L88.86,226.82 L89.98,226.77 L91.10,226.73 L92.22,226.68 L93.35,226.63 L94.48,226.58 L95.61,226.53 L96.74,226.47 L97.87,226.41 L99.00,226.35 L100.13,226.29 L101.26,226.22 L102.39,226.16 L103.52,226.08 L104.66,226.01 L105.79,225.93 L106.92,225.84 L108.05,225.76 L109.18,225.66 L110.31,225.57 L111.44,225.47 L112.57,225.36 L113.70,225.25 L114.82,225.13 L115.95,225.01 L117.07,224.88 L118.19,224.75 L119.31,224.61 L120.43,224.47 L121.54,224.31 L122.66,224.16 L123.77,223.99 L124.87,223.82 L125.98,223.64 L127.08,223.46 L128.18,223.26 L129.27,223.06 L130.36,222.85 L131.45,222.64 L132.54,222.41 L133.62,222.18 L134.69,221.94 L135.77,221.69 L136.84,221.43 L137.90,221.16 L138.96,220.88 L140.01,220.59 L141.06,220.30 L142.11,219.99 L143.15,219.67 L144.18,219.35 L145.21,219.01 L146.24,218.66 L147.25,218.30 L148.27,217.93 L149.27,217.55 L150.27,217.16 L151.27,216.76 L152.25,216.34 L153.23,215.92 L154.21,215.48 L155.17,215.03 L156.13,214.56 L157.09,214.09 L158.03,213.60 L158.97,213.10 L159.90,212.58 L160.82,212.05 L161.74,211.51 L162.64,210.96 L163.54,210.39 L164.43,209.80 L165.31,209.21 L166.19,208.59 L167.05,207.97 L167.91,207.32 L168.75,206.67 L169.59,206.00 L170.42,205.31 L171.24,204.61 L172.04,203.89 L172.84,203.16 L173.63,202.41 L174.41,201.65 L175.19,200.87 L175.95,200.09 L176.71,199.29 L177.45,198.47 L178.19,197.65 L178.92,196.82 L179.65,195.97 L180.36,195.12 L181.07,194.25 L181.77,193.38 L182.46,192.49 L183.15,191.60 L183.83,190.70 L184.50,189.80 L185.17,188.88 L185.83,187.96 L186.48,187.04 L187.13,186.10 L187.77,185.17 L188.41,184.23 L189.04,183.28 L189.66,182.33 L190.29,181.38 L190.90,180.42 L191.51,179.47 L192.12,178.51 L192.72,177.55 L193.31,176.59 L193.91,175.62 L194.50,174.66 L195.08,173.70 L195.66,172.74 L196.24,171.78 L196.81,170.82 L197.38,169.87 L197.95,168.92 L198.51,167.97 L199.08,167.02 L199.64,166.08 L200.19,165.15 L200.75,164.22 L201.30,163.29 L201.85,162.36 L202.39,161.44 L202.94,160.52 L203.48,159.60 L204.01,158.68 L204.55,157.76 L205.08,156.85 L205.60,155.93 L206.12,155.01 L206.64,154.09 L207.16,153.17 L207.67,152.25 L208.18,151.32 L208.68,150.39 L209.18,149.46 L209.67,148.52 L210.16,147.58 L210.64,146.63 L211.12,145.67 L211.60,144.71 L212.07,143.75 L212.53,142.77 L212.99,141.79 L213.44,140.80 L213.89,139.80 L214.33,138.80 L214.77,137.78 L215.20,136.76 L215.63,135.72 L216.05,134.69 L216.47,133.64 L216.88,132.59 L217.29,131.54 L217.70,130.48 L218.10,129.42 L218.49,128.36 L218.88,127.29 L219.27,126.23 L219.66,125.16 L220.04,124.10 L220.42,123.03 L220.80,121.97 L221.18,120.91 L221.55,119.85 L221.92,118.80 L222.29,117.75 L222.66,116.71 L223.02,115.67 L223.39,114.64 L223.75,113.60 L224.11,112.58 L224.48,111.55 L224.84,110.53 L225.20,109.52 L225.56,108.50 L225.92,107.49 L226.29,106.47 L226.65,105.46 L227.02,104.46 L227.38,103.45 L227.75,102.44 L228.12,101.44 L228.49,100.43 L228.86,99.42 L229.24,98.42 L229.61,97.41 L229.99,96.40 L230.38,95.39 L230.77,94.38 L231.16,93.37 L231.55,92.35 L231.95,91.34 L232.35,90.32 L232.76,89.30 L233.17,88.27 L233.58,87.24 L234.00,86.21 L234.43,85.17 L234.86,84.13 L235.30,83.08 L235.74,82.03 L236.19,80.98 L236.65,79.92 L237.11,78.85 L237.58,77.79 L238.07,76.74 L238.57,75.69 L239.09,74.66 L239.62,73.65 L240.17,72.67 L240.75,71.71 L241.35,70.78 L241.98,69.89 L242.63,69.04 L243.32,68.24 L244.04,67.48 L244.79,66.78 L245.58,66.13 L246.41,65.55 L247.28,65.04 L248.19,64.59 L249.14,64.22 L250.14,63.93 L251.17,63.73 L252.22,63.65 L253.25,63.70 L254.27,63.90 L255.25,64.27 L256.17,64.81 L257.04,65.51 L257.86,66.32 L258.64,67.20 L259.38,68.09 L260.09,68.99 L260.78,69.90 L261.44,70.81 L262.08,71.73 L262.71,72.65 L263.32,73.58 L263.91,74.52 L264.50,75.46 L265.07,76.40 L265.63,77.35 L266.18,78.31 L266.73,79.27 L267.26,80.23 L267.78,81.20 L268.30,82.17 L268.80,83.15 L269.30,84.13 L269.79,85.11 L270.27,86.10 L270.74,87.09 L271.21,88.09 L271.67,89.09 L272.12,90.09 L272.57,91.09 L273.01,92.09 L273.45,93.10 L273.88,94.11 L274.31,95.13 L274.73,96.14 L275.15,97.16 L275.57,98.17 L275.98,99.19 L276.39,100.22 L276.79,101.24 L277.20,102.26 L277.60,103.28 L278.00,104.31 L278.40,105.33 L278.80,106.36 L279.19,107.39 L279.59,108.41 L279.99,109.44 L280.38,110.46 L280.78,111.49 L281.18,112.52 L281.58,113.54 L281.98,114.56 L282.39,115.59 L282.79,116.61 L283.20,117.63 L283.61,118.65 L284.03,119.66 L284.45,120.68 L284.87,121.69 L285.30,122.70 L285.73,123.71 L286.17,124.72 L286.61,125.72 L287.06,126.72 L287.52,127.72 L287.98,128.72 L288.44,129.71 L288.92,130.70 L289.40,131.68 L289.89,132.67 L290.38,133.65 L290.89,134.62 L291.40,135.59 L291.91,136.56 L292.44,137.53 L292.96,138.49 L293.50,139.45 L294.04,140.41 L294.59,141.36 L295.14,142.31 L295.70,143.26 L296.27,144.20 L296.84,145.14 L297.41,146.08 L297.99,147.01 L298.58,147.94 L299.17,148.87 L299.77,149.80 L300.37,150.72 L300.98,151.64 L301.59,152.56 L302.21,153.47 L302.83,154.39 L303.45,155.29 L304.08,156.20 L304.72,157.10 L305.35,158.01 L306.00,158.90 L306.64,159.80 L307.29,160.69 L307.94,161.58 L308.60,162.47 L309.26,163.36 L309.93,164.24 L310.59,165.12 L311.26,166.00 L311.94,166.87 L312.61,167.75 L313.29,168.62 L313.97,169.49 L314.66,170.35 L315.34,171.22 L316.03,172.08 L316.73,172.93 L317.43,173.78 L318.14,174.61 L318.86,175.44 L319.59,176.25 L320.34,177.05 L321.09,177.84 L321.86,178.61 L322.64,179.36 L323.44,180.09 L324.25,180.80 L325.08,181.49 L325.94,182.15 L326.81,182.79 L327.71,183.40 L328.62,183.98 L329.57,184.54 L330.54,185.06 L331.53,185.54 L332.55,186.00 L333.60,186.41 L334.69,186.79 L335.80,187.13 L336.94,187.43 L338.12,187.69" fill="none" stroke="#000080" stroke-width="1.6" stroke-dasharray="1.5 1.9"/>
<rect x="58.0" y="1.75" width="283.25" height="227.90" fill="none" stroke="#000" stroke-width="2"/>
<line x1="58.00" y1="229.65" x2="58.00" y2="224.65" stroke="#000" stroke-width="1.5"/>
<line x1="58.00" y1="1.75" x2="58.00" y2="6.75" stroke="#000" stroke-width="1.5"/>
<line x1="78.23" y1="229.65" x2="78.23" y2="226.65" stroke="#000" stroke-width="1.5"/>
<line x1="78.23" y1="1.75" x2="78.23" y2="4.75" stroke="#000" stroke-width="1.5"/>
<line x1="98.46" y1="229.65" x2="98.46" y2="224.65" stroke="#000" stroke-width="1.5"/>
<line x1="98.46" y1="1.75" x2="98.46" y2="6.75" stroke="#000" stroke-width="1.5"/>
<line x1="118.70" y1="229.65" x2="118.70" y2="226.65" stroke="#000" stroke-width="1.5"/>
<line x1="118.70" y1="1.75" x2="118.70" y2="4.75" stroke="#000" stroke-width="1.5"/>
<line x1="138.93" y1="229.65" x2="138.93" y2="224.65" stroke="#000" stroke-width="1.5"/>
<line x1="138.93" y1="1.75" x2="138.93" y2="6.75" stroke="#000" stroke-width="1.5"/>
<line x1="159.16" y1="229.65" x2="159.16" y2="226.65" stroke="#000" stroke-width="1.5"/>
<line x1="159.16" y1="1.75" x2="159.16" y2="4.75" stroke="#000" stroke-width="1.5"/>
<line x1="179.39" y1="229.65" x2="179.39" y2="224.65" stroke="#000" stroke-width="1.5"/>
<line x1="179.39" y1="1.75" x2="179.39" y2="6.75" stroke="#000" stroke-width="1.5"/>
<line x1="199.63" y1="229.65" x2="199.63" y2="226.65" stroke="#000" stroke-width="1.5"/>
<line x1="199.63" y1="1.75" x2="199.63" y2="4.75" stroke="#000" stroke-width="1.5"/>
<line x1="219.86" y1="229.65" x2="219.86" y2="224.65" stroke="#000" stroke-width="1.5"/>
<line x1="219.86" y1="1.75" x2="219.86" y2="6.75" stroke="#000" stroke-width="1.5"/>
<line x1="240.09" y1="229.65" x2="240.09" y2="226.65" stroke="#000" stroke-width="1.5"/>
<line x1="240.09" y1="1.75" x2="240.09" y2="4.75" stroke="#000" stroke-width="1.5"/>
<line x1="260.32" y1="229.65" x2="260.32" y2="224.65" stroke="#000" stroke-width="1.5"/>
<line x1="260.32" y1="1.75" x2="260.32" y2="6.75" stroke="#000" stroke-width="1.5"/>
<line x1="280.55" y1="229.65" x2="280.55" y2="226.65" stroke="#000" stroke-width="1.5"/>
<line x1="280.55" y1="1.75" x2="280.55" y2="4.75" stroke="#000" stroke-width="1.5"/>
<line x1="300.79" y1="229.65" x2="300.79" y2="224.65" stroke="#000" stroke-width="1.5"/>
<line x1="300.79" y1="1.75" x2="300.79" y2="6.75" stroke="#000" stroke-width="1.5"/>
<line x1="321.02" y1="229.65" x2="321.02" y2="226.65" stroke="#000" stroke-width="1.5"/>
<line x1="321.02" y1="1.75" x2="321.02" y2="4.75" stroke="#000" stroke-width="1.5"/>
<line x1="341.25" y1="229.65" x2="341.25" y2="224.65" stroke="#000" stroke-width="1.5"/>
<line x1="341.25" y1="1.75" x2="341.25" y2="6.75" stroke="#000" stroke-width="1.5"/>
<line x1="58.0" y1="229.65" x2="63.0" y2="229.65" stroke="#000" stroke-width="1.5"/>
<line x1="341.25" y1="229.65" x2="336.25" y2="229.65" stroke="#000" stroke-width="1.5"/>
<line x1="58.0" y1="208.92" x2="61.0" y2="208.92" stroke="#000" stroke-width="1.5"/>
<line x1="341.25" y1="208.92" x2="338.25" y2="208.92" stroke="#000" stroke-width="1.5"/>
<line x1="58.0" y1="188.18" x2="63.0" y2="188.18" stroke="#000" stroke-width="1.5"/>
<line x1="341.25" y1="188.18" x2="336.25" y2="188.18" stroke="#000" stroke-width="1.5"/>
<line x1="58.0" y1="167.44" x2="61.0" y2="167.44" stroke="#000" stroke-width="1.5"/>
<line x1="341.25" y1="167.44" x2="338.25" y2="167.44" stroke="#000" stroke-width="1.5"/>
<line x1="58.0" y1="146.71" x2="63.0" y2="146.71" stroke="#000" stroke-width="1.5"/>
<line x1="341.25" y1="146.71" x2="336.25" y2="146.71" stroke="#000" stroke-width="1.5"/>
<line x1="58.0" y1="125.98" x2="61.0" y2="125.98" stroke="#000" stroke-width="1.5"/>
<line x1="341.25" y1="125.98" x2="338.25" y2="125.98" stroke="#000" stroke-width="1.5"/>
<line x1="58.0" y1="105.24" x2="63.0" y2="105.24" stroke="#000" stroke-width="1.5"/>
<line x1="341.25" y1="105.24" x2="336.25" y2="105.24" stroke="#000" stroke-width="1.5"/>
<line x1="58.0" y1="84.50" x2="61.0" y2="84.50" stroke="#000" stroke-width="1.5"/>
<line x1="341.25" y1="84.50" x2="338.25" y2="84.50" stroke="#000" stroke-width="1.5"/>
<line x1="58.0" y1="63.77" x2="63.0" y2="63.77" stroke="#000" stroke-width="1.5"/>
<line x1="341.25" y1="63.77" x2="336.25" y2="63.77" stroke="#000" stroke-width="1.5"/>
<line x1="58.0" y1="43.03" x2="61.0" y2="43.03" stroke="#000" stroke-width="1.5"/>
<line x1="341.25" y1="43.03" x2="338.25" y2="43.03" stroke="#000" stroke-width="1.5"/>
<line x1="58.0" y1="22.30" x2="63.0" y2="22.30" stroke="#000" stroke-width="1.5"/>
<line x1="341.25" y1="22.30" x2="336.25" y2="22.30" stroke="#000" stroke-width="1.5"/>
<text x="58.00" y="244.2" font-family="Liberation Sans, sans-serif" font-size="11.8" text-anchor="middle">0.1</text>
<text x="98.46" y="244.2" font-family="Liberation Sans, sans-serif" font-size="11.8" text-anchor="middle">0.2</text>
<text x="138.93" y="244.2" font-family="Liberation Sans, sans-serif" font-size="11.8" text-anchor="middle">0.3</text>
<text x="179.39" y="244.2" font-family="Liberation Sans, sans-serif" font-size="11.8" text-anchor="middle">0.4</text>
<text x="219.86" y="244.2" font-family="Liberation Sans, sans-serif" font-size="11.8" text-anchor="middle">0.5</text>
<text x="260.32" y="244.2" font-family="Liberation Sans, sans-serif" font-size="11.8" text-anchor="middle">0.6</text>
<text x="300.79" y="244.2" font-family="Liberation Sans, sans-serif" font-size="11.8" text-anchor="middle">0.7</text>
<text x="341.25" y="244.2" font-family="Liberation Sans, sans-serif" font-size="11.8" text-anchor="middle">0.8</text>
<text x="53.4" y="232.95" font-family="Liberation Sans, sans-serif" font-size="12" text-anchor="end">0</text>
<text x="53.4" y="191.48" font-family="Liberation Sans, sans-serif" font-size="12" text-anchor="end">50</text>
<text x="53.4" y="150.01" font-family="Liberation Sans, sans-serif" font-size="12" text-anchor="end">100</text>
<text x="53.4" y="108.54" font-family="Liberation Sans, sans-serif" font-size="12" text-anchor="end">150</text>
<text x="53.4" y="67.07" font-family="Liberation Sans, sans-serif" font-size="12" text-anchor="end">200</text>
<text x="53.4" y="25.60" font-family="Liberation Sans, sans-serif" font-size="12" text-anchor="end">250</text>
<text x="199.5" y="270" font-family="Liberation Sans, sans-serif" font-size="18" text-anchor="middle">E vs. SCE (V)</text>
<text transform="translate(13.5,122.6) rotate(-90)" font-family="Liberation Sans, sans-serif" font-size="17.8" text-anchor="middle">i (A/g)</text>
<line x1="68.4" y1="16.4" x2="96.4" y2="16.4" stroke="#000000" stroke-width="2"/>
<text x="99" y="20.8" font-family="Liberation Sans, sans-serif" font-size="12"><tspan>Rh</tspan></text>
<line x1="68.9" y1="31.0" x2="96.4" y2="31.0" stroke="#ff0000" stroke-width="2" stroke-dasharray="7.9 7.6"/>
<text x="99" y="35.8" font-family="Liberation Sans, sans-serif" font-size="12"><tspan>Rh</tspan><tspan font-size="7.4" dy="4.6">72</tspan><tspan dy="-4.6">@Pt</tspan><tspan font-size="7.4" dy="4.6">28</tspan><tspan dy="-4.6">&#160;(0.9&#160;ML)</tspan></text>
<line x1="68.4" y1="49.9" x2="96.4" y2="49.9" stroke="#0000ff" stroke-width="2" stroke-dasharray="2.4 7.1"/>
<text x="99" y="54.3" font-family="Liberation Sans, sans-serif" font-size="12"><tspan>Rh</tspan><tspan font-size="7.4" dy="4.6">60</tspan><tspan dy="-4.6">@Pt</tspan><tspan font-size="7.4" dy="4.6">40</tspan><tspan dy="-4.6">&#160;(1.4&#160;ML)</tspan></text>
<line x1="68.4" y1="68.3" x2="96.4" y2="68.3" stroke="#008080" stroke-width="2" stroke-dasharray="9.5 3.6 2.8 3.6"/>
<text x="99" y="72.9" font-family="Liberation Sans, sans-serif" font-size="12"><tspan>Rh</tspan><tspan font-size="7.4" dy="4.6">54</tspan><tspan dy="-4.6">@Pt</tspan><tspan font-size="7.4" dy="4.6">46</tspan><tspan dy="-4.6">&#160;(1.8&#160;ML)</tspan></text>
<line x1="68.4" y1="87.0" x2="96.4" y2="87.0" stroke="#ff00ff" stroke-width="2" stroke-dasharray="7.3 3.9 2.5 3.9 2.5 3.9"/>
<text x="99" y="91.6" font-family="Liberation Sans, sans-serif" font-size="12"><tspan>Rh</tspan><tspan font-size="7.4" dy="4.6">46</tspan><tspan dy="-4.6">@Pt</tspan><tspan font-size="7.4" dy="4.6">54</tspan><tspan dy="-4.6">&#160;(2.4&#160;ML)</tspan></text>
<line x1="68.4" y1="106.0" x2="96.4" y2="106.0" stroke="#808000" stroke-width="2" stroke-dasharray="4.2 3"/>
<text x="99" y="110.4" font-family="Liberation Sans, sans-serif" font-size="12"><tspan>Rh</tspan><tspan font-size="7.4" dy="4.6">40</tspan><tspan dy="-4.6">@Pt</tspan><tspan font-size="7.4" dy="4.6">60</tspan><tspan dy="-4.6">&#160;(2.7&#160;ML)</tspan></text>
<line x1="68.4" y1="124.3" x2="96.4" y2="124.3" stroke="#000080" stroke-width="1.7" stroke-dasharray="1.4 1.76"/>
<text x="99" y="129.0" font-family="Liberation Sans, sans-serif" font-size="12"><tspan>Pt</tspan></text>
</svg>
</body></html>
